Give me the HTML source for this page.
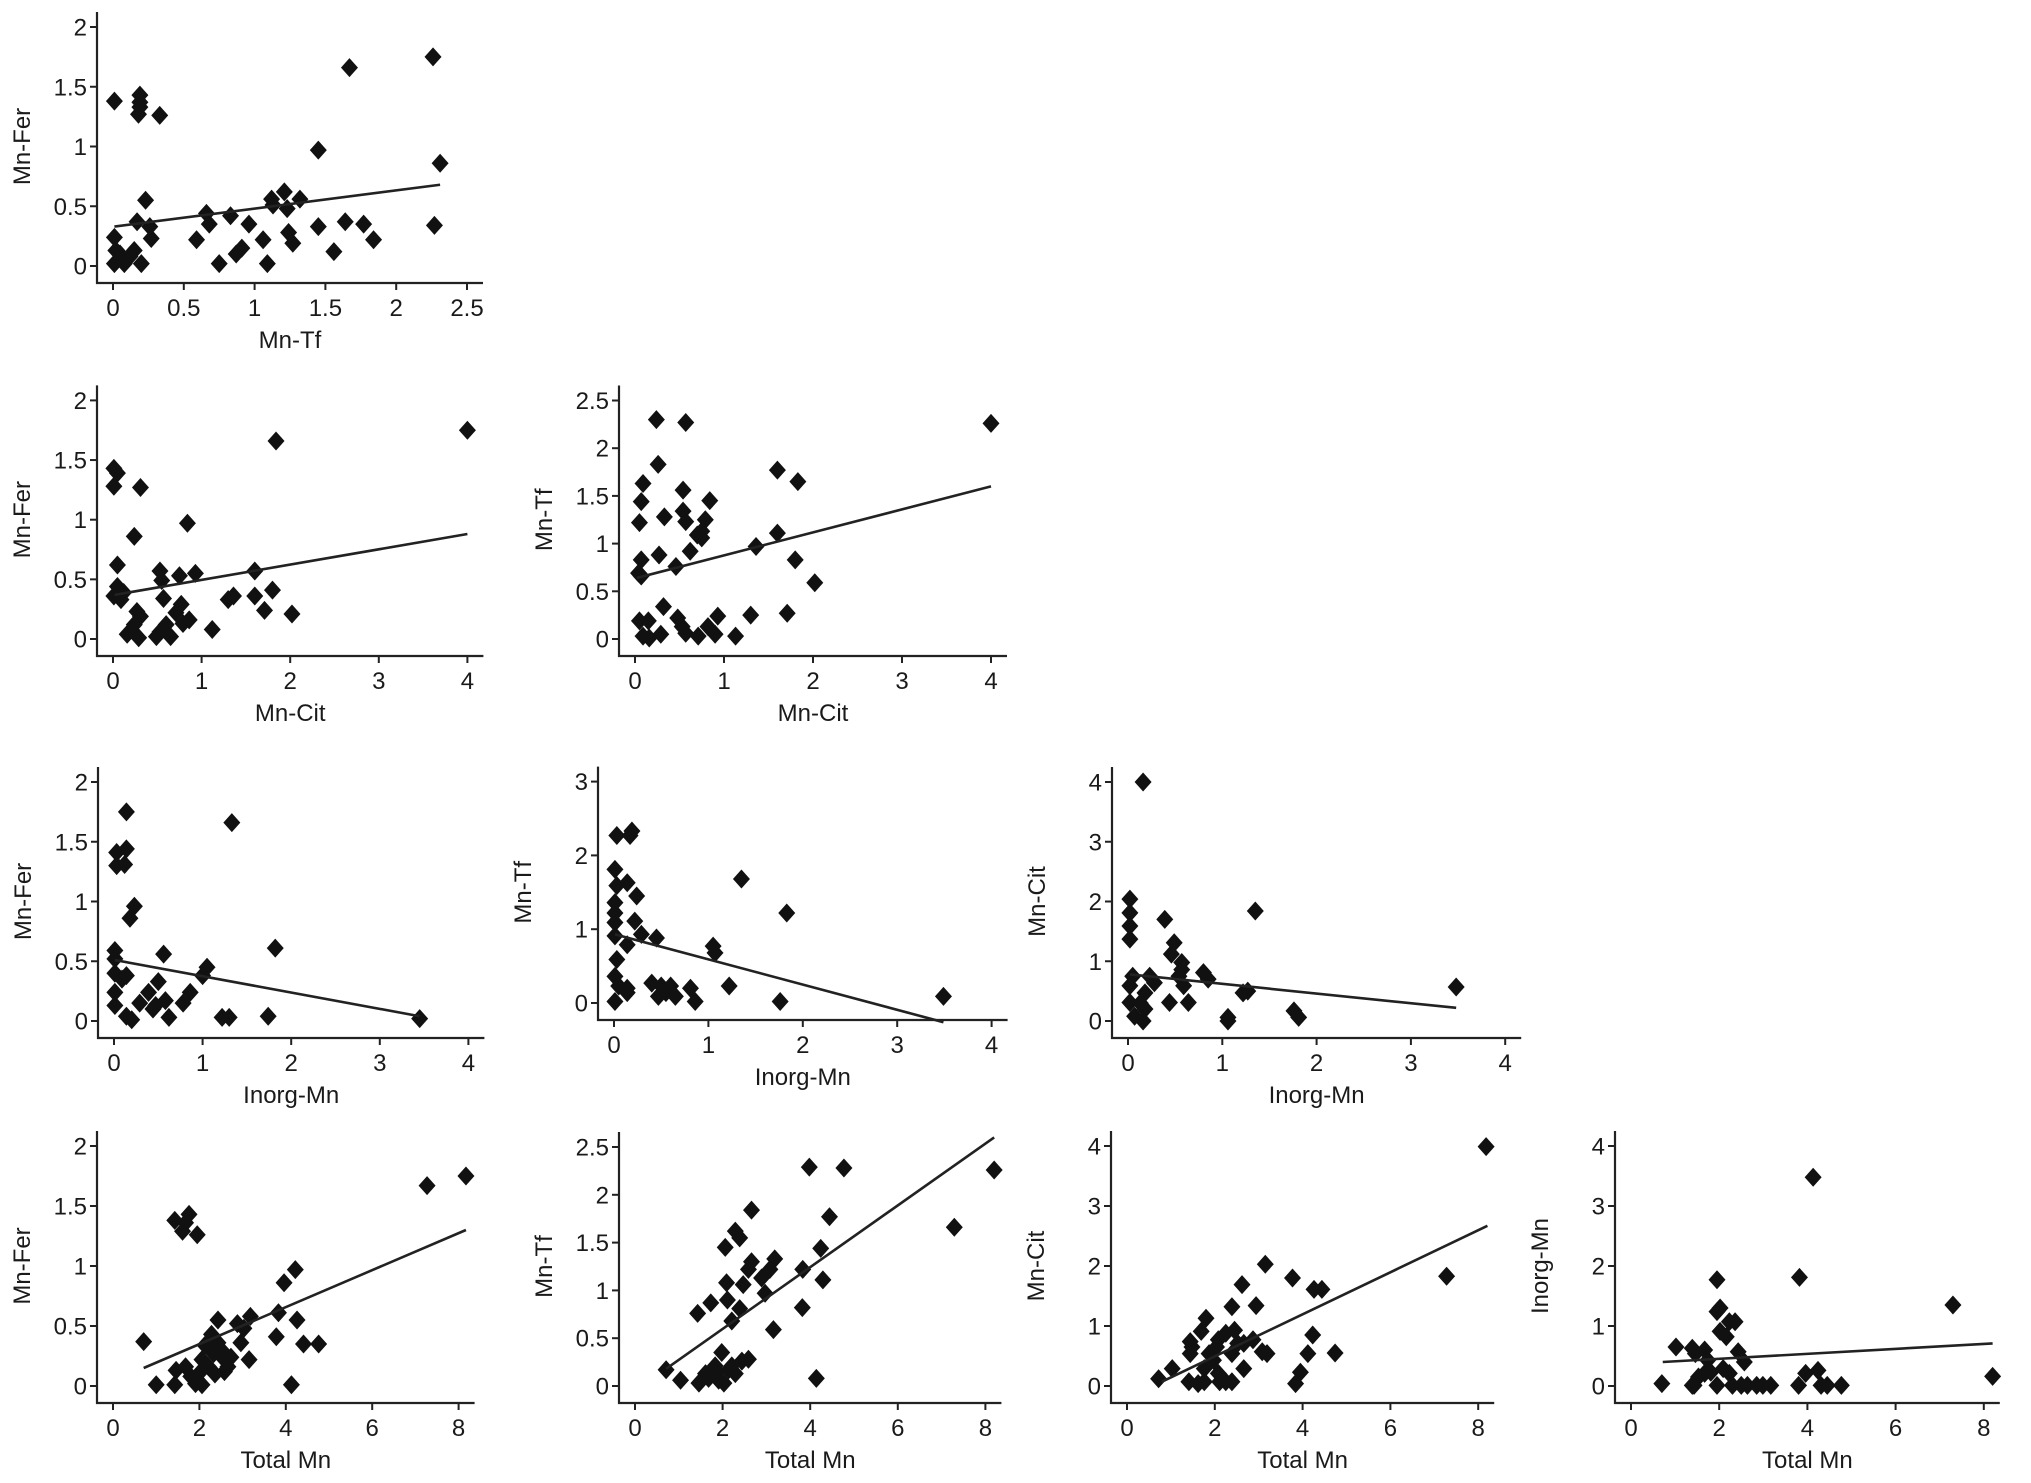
<!DOCTYPE html>
<html><head><meta charset="utf-8">
<style>
html,body{margin:0;padding:0;background:#fff;}
svg{display:block;}
text{font-family:"Liberation Sans",Arial,sans-serif;fill:#1a1a1a;}
</style></head>
<body>
<svg id="chart" width="2031" height="1483" viewBox="0 0 2031 1483" xmlns="http://www.w3.org/2000/svg"></svg>
<script>
// Panel 1: Mn-Tf (x) vs Mn-Fer (y)
const p1x=[0.01,0.19,0.19,0.19,0.18,0.33,2.26,1.67,1.45,2.31,0.23,0.17,0.26,0.27,0.01,0.02,0.05,0.01,0.08,0.12,0.15,0.2,0.59,0.66,0.68,0.75,0.83,0.87,0.91,0.96,1.06,1.09,1.12,1.13,1.21,1.23,1.24,1.27,1.32,1.45,1.56,1.64,1.77,1.84,2.27];
const p1y=[1.38,1.43,1.37,1.33,1.27,1.26,1.75,1.66,0.97,0.86,0.55,0.37,0.33,0.23,0.24,0.13,0.1,0.02,0.02,0.08,0.13,0.02,0.22,0.44,0.35,0.02,0.42,0.1,0.15,0.35,0.22,0.02,0.56,0.51,0.62,0.48,0.28,0.19,0.56,0.33,0.12,0.37,0.35,0.22,0.34];
const p1fitX=[0.01,2.31], p1fitY=[0.33,0.68];
// Panel 2: Mn-Cit vs Mn-Fer
const p2x=[0.01,0.05,0.01,0.31,1.84,4.0,0.84,0.24,0.05,0.05,0.01,0.12,0.09,0.53,0.55,0.75,0.93,0.57,0.27,0.31,0.24,0.16,0.29,0.49,0.53,0.6,0.65,0.71,0.77,0.79,0.86,1.12,1.3,1.36,1.6,1.6,1.71,1.8,2.02];
const p2y=[1.43,1.39,1.28,1.27,1.66,1.75,0.97,0.86,0.62,0.44,0.36,0.39,0.33,0.57,0.49,0.53,0.55,0.34,0.23,0.19,0.12,0.04,0.01,0.02,0.06,0.12,0.02,0.22,0.29,0.13,0.16,0.08,0.33,0.36,0.57,0.36,0.24,0.41,0.21];
const p2fitX=[0.02,4.0], p2fitY=[0.37,0.88];
// Panel 3: Mn-Cit vs Mn-Tf
const p3x=[0.24,0.57,4.0,0.26,0.09,0.07,0.05,0.33,0.54,0.54,0.57,0.84,0.79,0.75,0.7,0.75,0.62,0.27,0.46,0.07,0.04,0.07,1.36,1.6,1.6,1.83,1.8,2.02,1.71,1.3,0.32,0.05,0.15,0.09,0.16,0.29,0.48,0.53,0.57,0.71,0.82,0.9,0.93,1.13];
const p3y=[2.3,2.27,2.26,1.83,1.63,1.44,1.22,1.28,1.56,1.34,1.23,1.45,1.25,1.13,1.09,1.06,0.92,0.88,0.76,0.83,0.69,0.66,0.97,1.11,1.77,1.65,0.83,0.59,0.27,0.25,0.34,0.19,0.19,0.03,0.01,0.05,0.22,0.13,0.06,0.03,0.13,0.05,0.24,0.03];
const p3fitX=[0.02,4.0], p3fitY=[0.64,1.6];
// Panel 4: Inorg-Mn vs Mn-Fer
const p4x=[0.14,1.33,0.03,0.14,0.03,0.12,0.23,0.18,0.01,0.01,0.01,0.09,0.01,0.01,0.14,0.14,0.2,0.29,0.39,0.47,0.5,0.56,0.58,0.62,0.44,0.78,0.86,1.0,1.05,1.22,1.3,1.74,1.82,3.45];
const p4y=[1.75,1.66,1.41,1.44,1.3,1.31,0.96,0.86,0.59,0.52,0.4,0.35,0.24,0.13,0.38,0.04,0.01,0.15,0.24,0.13,0.33,0.56,0.17,0.03,0.1,0.15,0.24,0.38,0.45,0.03,0.03,0.04,0.61,0.02];
const p4fitX=[0.01,3.45], p4fitY=[0.51,0.04];
// Panel 5: Inorg-Mn vs Mn-Tf
const p5x=[0.03,0.17,0.19,0.01,0.03,0.01,0.01,0.01,0.14,0.24,0.22,0.01,0.03,0.14,0.29,0.45,0.01,0.01,0.14,0.05,0.4,0.47,0.55,0.6,0.65,0.81,0.86,1.05,1.07,1.22,1.35,1.76,1.83,3.49,0.5,0.14];
const p5y=[2.27,2.27,2.33,1.81,1.59,1.36,1.22,1.09,1.63,1.45,1.11,0.91,0.59,0.79,0.93,0.88,0.36,0.02,0.2,0.23,0.27,0.09,0.14,0.23,0.09,0.2,0.02,0.77,0.68,0.23,1.68,0.02,1.22,0.09,0.23,0.14];
const p5fitX=[0.01,3.49], p5fitY=[0.93,-0.26];
// Panel 6: Inorg-Mn vs Mn-Cit
const p6x=[0.16,0.02,0.02,0.02,0.02,0.39,1.35,0.49,0.46,0.57,0.57,0.05,0.23,0.28,0.18,0.02,0.02,0.07,0.16,0.18,0.44,0.54,0.59,0.64,0.8,0.85,1.06,1.06,1.22,1.27,1.76,1.81,3.48,0.13];
const p6y=[4.0,2.04,1.81,1.59,1.37,1.7,1.84,1.31,1.12,0.98,0.86,0.75,0.75,0.64,0.47,0.59,0.31,0.08,0.0,0.2,0.31,0.75,0.59,0.31,0.81,0.7,0.06,0.0,0.47,0.5,0.17,0.06,0.57,0.3];
const p6fitX=[0.02,3.48], p6fitY=[0.78,0.22];
// Panel 7: Total Mn vs Mn-Fer
const p7x=[0.71,1.0,1.43,1.43,1.61,1.76,1.68,1.95,8.17,7.27,3.96,4.22,3.83,3.78,4.26,4.13,4.41,4.76,1.46,1.68,1.8,1.91,2.06,1.98,2.06,2.21,2.13,2.28,2.43,2.43,2.51,2.58,2.66,2.58,2.36,2.73,2.96,2.88,3.03,3.18,3.15,2.33];
const p7y=[0.37,0.01,0.01,1.38,1.29,1.43,1.36,1.26,1.75,1.67,0.86,0.97,0.61,0.41,0.55,0.01,0.35,0.35,0.13,0.16,0.08,0.02,0.01,0.1,0.22,0.16,0.34,0.43,0.36,0.55,0.3,0.22,0.16,0.12,0.1,0.24,0.36,0.52,0.48,0.58,0.22,0.27];
const p7fitX=[0.71,8.17], p7fitY=[0.15,1.3];
// Panel 8: Total Mn vs Mn-Tf
const p8x=[0.71,1.04,1.43,1.73,2.06,2.09,2.11,2.29,2.39,2.66,2.47,2.39,2.21,2.66,2.59,2.89,2.97,3.08,3.19,3.16,3.83,3.82,3.98,4.24,4.29,4.44,4.77,4.14,7.29,8.2,1.46,1.61,1.68,1.83,1.91,1.98,2.03,2.14,2.21,2.29,2.44,2.59,1.88];
const p8y=[0.17,0.06,0.76,0.87,1.45,1.08,0.9,1.62,1.55,1.84,1.06,0.81,0.68,1.3,1.22,1.13,0.97,1.22,1.33,0.59,1.22,0.82,2.29,1.44,1.11,1.77,2.28,0.08,1.66,2.26,0.03,0.13,0.08,0.21,0.06,0.35,0.03,0.17,0.21,0.13,0.26,0.28,0.15];
const p8fitX=[0.71,8.2], p8fitY=[0.18,2.6];
// Panel 9: Total Mn vs Mn-Cit
const p9x=[0.72,1.03,1.44,1.44,1.48,1.41,1.62,1.76,1.8,1.69,1.76,1.87,1.97,2.04,2.08,2.08,2.11,2.25,2.25,2.39,2.39,2.45,2.39,2.52,2.62,2.66,2.66,2.87,2.94,3.08,3.19,3.15,3.77,3.84,3.95,4.12,4.23,4.26,4.44,4.74,7.28,8.18];
const p9y=[0.12,0.29,0.74,0.54,0.65,0.07,0.04,0.07,1.13,0.91,0.29,0.54,0.43,0.65,0.77,0.21,0.07,0.07,0.88,0.07,1.32,0.93,0.54,0.71,1.69,0.71,0.29,0.77,1.34,0.57,0.54,2.03,1.8,0.04,0.23,0.54,0.85,1.61,1.61,0.55,1.83,3.99];
const p9fitX=[0.79,8.21], p9fitY=[0.07,2.67];
// Panel 10: Total Mn vs Inorg-Mn
const p10x=[0.7,1.02,1.39,1.46,1.67,1.74,1.43,1.53,1.67,1.81,1.95,1.95,2.02,2.02,2.16,2.23,2.36,2.43,2.57,1.95,2.09,2.23,2.3,2.5,2.64,2.85,2.99,3.17,3.82,3.8,3.96,4.13,4.24,4.31,4.45,4.77,7.3,8.2,1.39];
const p10y=[0.04,0.65,0.63,0.54,0.6,0.43,0.01,0.15,0.21,0.23,1.77,1.24,1.3,0.91,0.82,1.07,1.07,0.57,0.4,0.01,0.29,0.21,0.01,0.01,0.01,0.01,0.01,0.01,1.81,0.01,0.21,3.48,0.26,0.01,0.01,0.01,1.35,0.16,0.01];
const p10fitX=[0.72,8.2], p10fitY=[0.4,0.71];

// tick label arrays
const ticksFer=[0,0.5,1,1.5,2], ticksTf25=[0,0.5,1,1.5,2,2.5], ticksTf3=[0,1,2,3], ticks4=[0,1,2,3,4], ticks8=[0,2,4,6,8];

const panels=[
 {name:'mn-tf-vs-mn-fer',x:p1x,y:p1y,fx:p1fitX,fy:p1fitY,x0:113,xs:141.6,y0:266,ys:119.5,xt:ticksTf25,yt:ticksFer,xl:'Mn-Tf',yl:'Mn-Fer'},
 {name:'mn-cit-vs-mn-fer',x:p2x,y:p2y,fx:p2fitX,fy:p2fitY,x0:113,xs:88.6,y0:639,ys:119.3,xt:ticks4,yt:ticksFer,xl:'Mn-Cit',yl:'Mn-Fer'},
 {name:'mn-cit-vs-mn-tf',x:p3x,y:p3y,fx:p3fitX,fy:p3fitY,x0:635,xs:89,y0:639,ys:95.4,xt:ticks4,yt:ticksTf25,xl:'Mn-Cit',yl:'Mn-Tf'},
 {name:'inorg-mn-vs-mn-fer',x:p4x,y:p4y,fx:p4fitX,fy:p4fitY,x0:114,xs:88.6,y0:1021,ys:119.5,xt:ticks4,yt:ticksFer,xl:'Inorg-Mn',yl:'Mn-Fer'},
 {name:'inorg-mn-vs-mn-tf',x:p5x,y:p5y,fx:p5fitX,fy:p5fitY,x0:614,xs:94.4,y0:1003,ys:73.8,xt:ticks4,yt:ticksTf3,xl:'Inorg-Mn',yl:'Mn-Tf'},
 {name:'inorg-mn-vs-mn-cit',x:p6x,y:p6y,fx:p6fitX,fy:p6fitY,x0:1128,xs:94.3,y0:1021,ys:59.75,xt:ticks4,yt:ticks4,xl:'Inorg-Mn',yl:'Mn-Cit'},
 {name:'total-mn-vs-mn-fer',x:p7x,y:p7y,fx:p7fitX,fy:p7fitY,x0:113,xs:43.2,y0:1386,ys:120,xt:ticks8,yt:ticksFer,xl:'Total Mn',yl:'Mn-Fer'},
 {name:'total-mn-vs-mn-tf',x:p8x,y:p8y,fx:p8fitX,fy:p8fitY,x0:635,xs:43.8,y0:1386,ys:95.6,xt:ticks8,yt:ticksTf25,xl:'Total Mn',yl:'Mn-Tf'},
 {name:'total-mn-vs-mn-cit',x:p9x,y:p9y,fx:p9fitX,fy:p9fitY,x0:1127,xs:43.9,y0:1386,ys:60,xt:ticks8,yt:ticks4,xl:'Total Mn',yl:'Mn-Cit'},
 {name:'total-mn-vs-inorg-mn',x:p10x,y:p10y,fx:p10fitX,fy:p10fitY,x0:1631,xs:44.1,y0:1386,ys:60,xt:ticks8,yt:ticks4,xl:'Total Mn',yl:'Inorg-Mn'}
];

const NS='http://www.w3.org/2000/svg';
const svg=document.getElementById('chart');
function mk(tag,attrs,parent){const e=document.createElementNS(NS,tag);for(const k in attrs)e.setAttribute(k,attrs[k]);parent.appendChild(e);return e;}

panels.forEach(p=>{
  const sx=v=>p.x0+v*p.xs, sy=v=>p.y0-v*p.ys;
  const g=mk('g',{},svg);
  
  
  const axX=p.x0-16, axY=p.y0+17;
  const yTop=sy(p.yt[p.yt.length-1])-15, xRight=sx(p.xt[p.xt.length-1])+16;
  const ya=mk('line',{x1:axX,y1:yTop,x2:axX,y2:axY+1,stroke:'#222','stroke-width':2.2},g);
  
  
  const xa=mk('line',{x1:axX-1,y1:axY,x2:xRight,y2:axY,stroke:'#222','stroke-width':2.2},g);
  
  
  p.xt.forEach(t=>{
    const X=sx(t);
    mk('line',{x1:X,y1:axY,x2:X,y2:axY+7,stroke:'#222','stroke-width':2},g);
    const tx=mk('text',{x:X,y:p.y0+50,'font-size':24,'text-anchor':'middle'},g);
    tx.textContent=String(t);
    
    
  });
  p.yt.forEach(t=>{
    const Y=sy(t);
    mk('line',{x1:axX-7,y1:Y,x2:axX,y2:Y,stroke:'#222','stroke-width':2},g);
    const tx=mk('text',{x:axX-10,y:Y+8.5,'font-size':24,'text-anchor':'end'},g);
    tx.textContent=String(t);
    
    
  });
  const xt=mk('text',{x:(sx(p.xt[0])+sx(p.xt[p.xt.length-1]))/2,y:p.y0+82,'font-size':24,'text-anchor':'middle'},g);
  xt.textContent=p.xl;
  
  
  const cy=(sy(p.yt[0])+sy(p.yt[p.yt.length-1]))/2, cx=p.x0-83;
  const yt=mk('text',{x:cx,y:cy,'font-size':24,'text-anchor':'middle',transform:'rotate(-90 '+cx+' '+cy+')'},g);
  yt.textContent=p.yl;
  
  
  p.x.forEach((v,i)=>{
    const X=sx(v),Y=sy(p.y[i]);
    const d=mk('polygon',{points:`${X},${Y-9.5} ${X+8.5},${Y} ${X},${Y+9.5} ${X-8.5},${Y}`,fill:'#111'},g);
    
    
  });
  const fl=mk('line',{x1:sx(p.fx[0]),y1:sy(p.fy[0]),x2:sx(p.fx[1]),y2:sy(p.fy[1]),stroke:'#222','stroke-width':2.6},g);
  
  
});
</script>
</body></html>
